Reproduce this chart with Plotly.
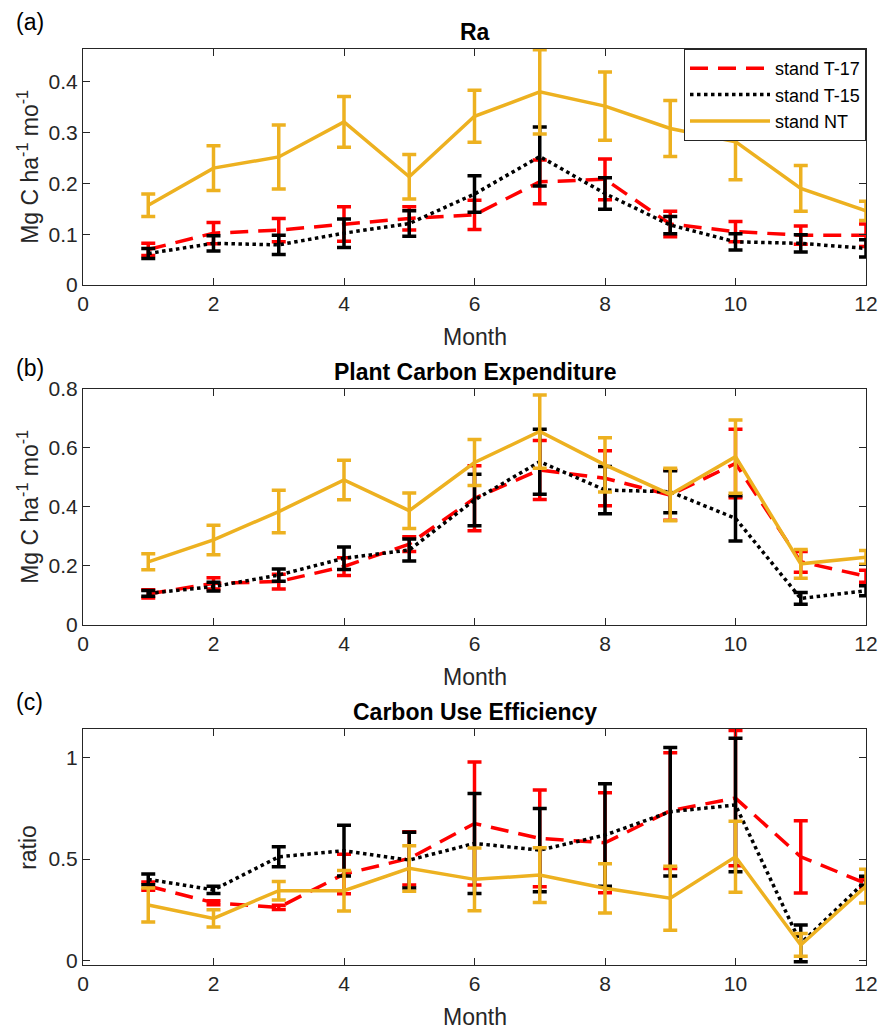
import plotly.graph_objects as go

months = list(range(1, 13))

# Panel (a) Ra
ra_t17 = [0.070, 0.102, 0.108, 0.120, 0.131, 0.138, 0.203, 0.208, 0.120, 0.105, 0.098, 0.098]
ra_t17_err = [0.012, 0.021, 0.023, 0.034, 0.023, 0.029, 0.043, 0.040, 0.025, 0.020, 0.018, 0.022]
ra_t15 = [0.062, 0.082, 0.079, 0.102, 0.121, 0.179, 0.253, 0.180, 0.118, 0.085, 0.082, 0.072]
ra_t15_err = [0.010, 0.015, 0.019, 0.028, 0.025, 0.036, 0.058, 0.031, 0.017, 0.016, 0.017, 0.017]
ra_nt = [0.157, 0.230, 0.252, 0.321, 0.213, 0.332, 0.380, 0.352, 0.308, 0.282, 0.190, 0.146]
ra_nt_err = [0.022, 0.044, 0.063, 0.050, 0.044, 0.051, 0.083, 0.067, 0.055, 0.075, 0.045, 0.019]

# Panel (b) Plant Carbon Expenditure
pce_t17 = [0.105, 0.141, 0.147, 0.198, 0.274, 0.429, 0.525, 0.497, 0.440, 0.547, 0.214, 0.165]
pce_t17_err = [0.014, 0.019, 0.025, 0.030, 0.025, 0.110, 0.100, 0.093, 0.085, 0.116, 0.035, 0.020]
pce_t15 = [0.107, 0.130, 0.169, 0.226, 0.254, 0.423, 0.553, 0.457, 0.451, 0.361, 0.090, 0.116]
pce_t15_err = [0.010, 0.015, 0.021, 0.038, 0.037, 0.087, 0.110, 0.080, 0.071, 0.077, 0.020, 0.017]
pce_nt = [0.214, 0.288, 0.384, 0.491, 0.387, 0.550, 0.655, 0.542, 0.442, 0.570, 0.207, 0.229]
pce_nt_err = [0.027, 0.050, 0.072, 0.067, 0.060, 0.078, 0.124, 0.092, 0.089, 0.124, 0.049, 0.023]

# Panel (c) Carbon Use Efficiency
cue_t17 = [0.367, 0.285, 0.262, 0.426, 0.503, 0.675, 0.602, 0.580, 0.738, 0.800, 0.511, 0.380]
cue_t17_err = [0.020, 0.010, 0.010, 0.097, 0.131, 0.303, 0.238, 0.246, 0.285, 0.333, 0.178, 0.020]
cue_t15 = [0.400, 0.348, 0.511, 0.541, 0.495, 0.577, 0.544, 0.618, 0.733, 0.766, 0.085, 0.393]
cue_t15_err = [0.026, 0.018, 0.049, 0.125, 0.137, 0.246, 0.205, 0.252, 0.316, 0.328, 0.090, 0.022]
cue_nt = [0.274, 0.208, 0.344, 0.344, 0.454, 0.400, 0.421, 0.356, 0.307, 0.511, 0.077, 0.367]
cue_nt_err = [0.084, 0.043, 0.045, 0.100, 0.112, 0.154, 0.135, 0.121, 0.157, 0.175, 0.056, 0.083]

series_names = ["stand T-17", "stand T-15", "stand NT"]
colors = ["#FF0000", "#000000", "#EDB120"]
dashes = ["18px,10px", "dot", "solid"]
widths = [3.5, 3.5, 3.5]

panels = [
    ([ra_t17, ra_t15, ra_nt], [ra_t17_err, ra_t15_err, ra_nt_err]),
    ([pce_t17, pce_t15, pce_nt], [pce_t17_err, pce_t15_err, pce_nt_err]),
    ([cue_t17, cue_t15, cue_nt], [cue_t17_err, cue_t15_err, cue_nt_err]),
]
titles = ["Ra", "Plant Carbon Expenditure", "Carbon Use Efficiency"]
panel_tags = ["(a)", "(b)", "(c)"]
ylabels = ["Mg C ha<sup>-1</sup> mo<sup>-1</sup>", "Mg C ha<sup>-1</sup> mo<sup>-1</sup>", "ratio"]
yranges = [[0, 0.465], [0, 0.8], [-0.02, 1.14]]
ytickvals = [[0, 0.1, 0.2, 0.3, 0.4], [0, 0.2, 0.4, 0.6, 0.8], [0, 0.5, 1]]
yticktext = [["0", "0.1", "0.2", "0.3", "0.4"], ["0", "0.2", "0.4", "0.6", "0.8"], ["0", "0.5", "1"]]

H = 1030.0
W_L, W_R = 83, 17
PW = 883 - W_L - W_R
# pixel bounds (top, bottom) of plotting areas
pix = [(48.7, 285.0), (388.7, 625.0), (729.0, 964.7)]

def py(p):
    return 1 - p / H

def px(p):
    return (p - W_L) / PW

fig = go.Figure()
FONT = "Liberation Sans, Arial, Helvetica, sans-serif"
AX = "#262626"

for i, (vals, errs) in enumerate(panels):
    xa = "x" if i == 0 else f"x{i+1}"
    ya = "y" if i == 0 else f"y{i+1}"
    for j in range(3):
        fig.add_trace(go.Scatter(
            x=months, y=vals[j], mode="lines",
            name=series_names[j], showlegend=(i == 0),
            line=dict(color=colors[j], width=widths[j], dash=dashes[j]),
            error_y=dict(type="data", array=errs[j], visible=True,
                         color=colors[j], thickness=3.5, width=7),
            xaxis=xa, yaxis=ya,
        ))
    top, bot = pix[i]
    xkey = "xaxis" if i == 0 else f"xaxis{i+1}"
    ykey = "yaxis" if i == 0 else f"yaxis{i+1}"
    fig.layout[xkey] = dict(
        domain=[0, 1], anchor=ya, range=[0, 12], automargin=False,
        tickvals=[0, 2, 4, 6, 8, 10, 12], ticks="inside", ticklen=7,
        tickcolor=AX, tickwidth=1, showline=True, linecolor=AX, linewidth=1,
        mirror="ticks", showgrid=False, zeroline=False,
        tickfont=dict(family=FONT, size=21, color=AX),
    )
    fig.layout[ykey] = dict(
        domain=[py(bot), py(top)], anchor=xa, range=yranges[i], automargin=False,
        tickvals=ytickvals[i], ticktext=yticktext[i], ticks="inside", ticklen=7,
        tickcolor=AX, tickwidth=1, showline=True, linecolor=AX, linewidth=1,
        mirror="ticks", showgrid=False, zeroline=False,
        tickfont=dict(family=FONT, size=21, color=AX),
    )
    # title
    fig.add_annotation(text="<b>" + titles[i] + "</b>", xref="paper", yref="paper",
                       x=0.5, y=py(top - 17), xanchor="center", yanchor="middle",
                       showarrow=False, font=dict(family=FONT, size=23, color="#000000"))
    # x label
    fig.add_annotation(text="Month", xref="paper", yref="paper",
                       x=0.5, y=py(bot + 52), xanchor="center", yanchor="middle",
                       showarrow=False, font=dict(family=FONT, size=23, color=AX))
    # y label
    fig.add_annotation(text=ylabels[i], xref="paper", yref="paper",
                       x=px(28), y=py((top + bot) / 2), xanchor="center", yanchor="middle",
                       textangle=-90, showarrow=False,
                       font=dict(family=FONT, size=23, color=AX))
    # panel tag
    tag_y = [22, 368, 702][i]
    fig.add_annotation(text=panel_tags[i], xref="paper", yref="paper",
                       x=px(30), y=py(tag_y), xanchor="center", yanchor="middle",
                       showarrow=False, font=dict(family=FONT, size=23, color="#000000"))

fig.update_layout(
    width=883, height=1030, autosize=False,
    margin=dict(l=W_L, r=W_R, t=0, b=0, autoexpand=False),
    paper_bgcolor="white", plot_bgcolor="white",
    showlegend=True,
    legend=dict(x=1, y=py(49), xanchor="right", yanchor="top",
                bgcolor="white", bordercolor=AX, borderwidth=1,
                font=dict(family=FONT, size=18, color="#000000"),
                itemwidth=80, tracegroupgap=0),
)

fig.write_html("out.html",
               config={"displayModeBar": False, "responsive": False},
               post_script="document.body.style.margin='0px';document.body.style.overflow='hidden';")
